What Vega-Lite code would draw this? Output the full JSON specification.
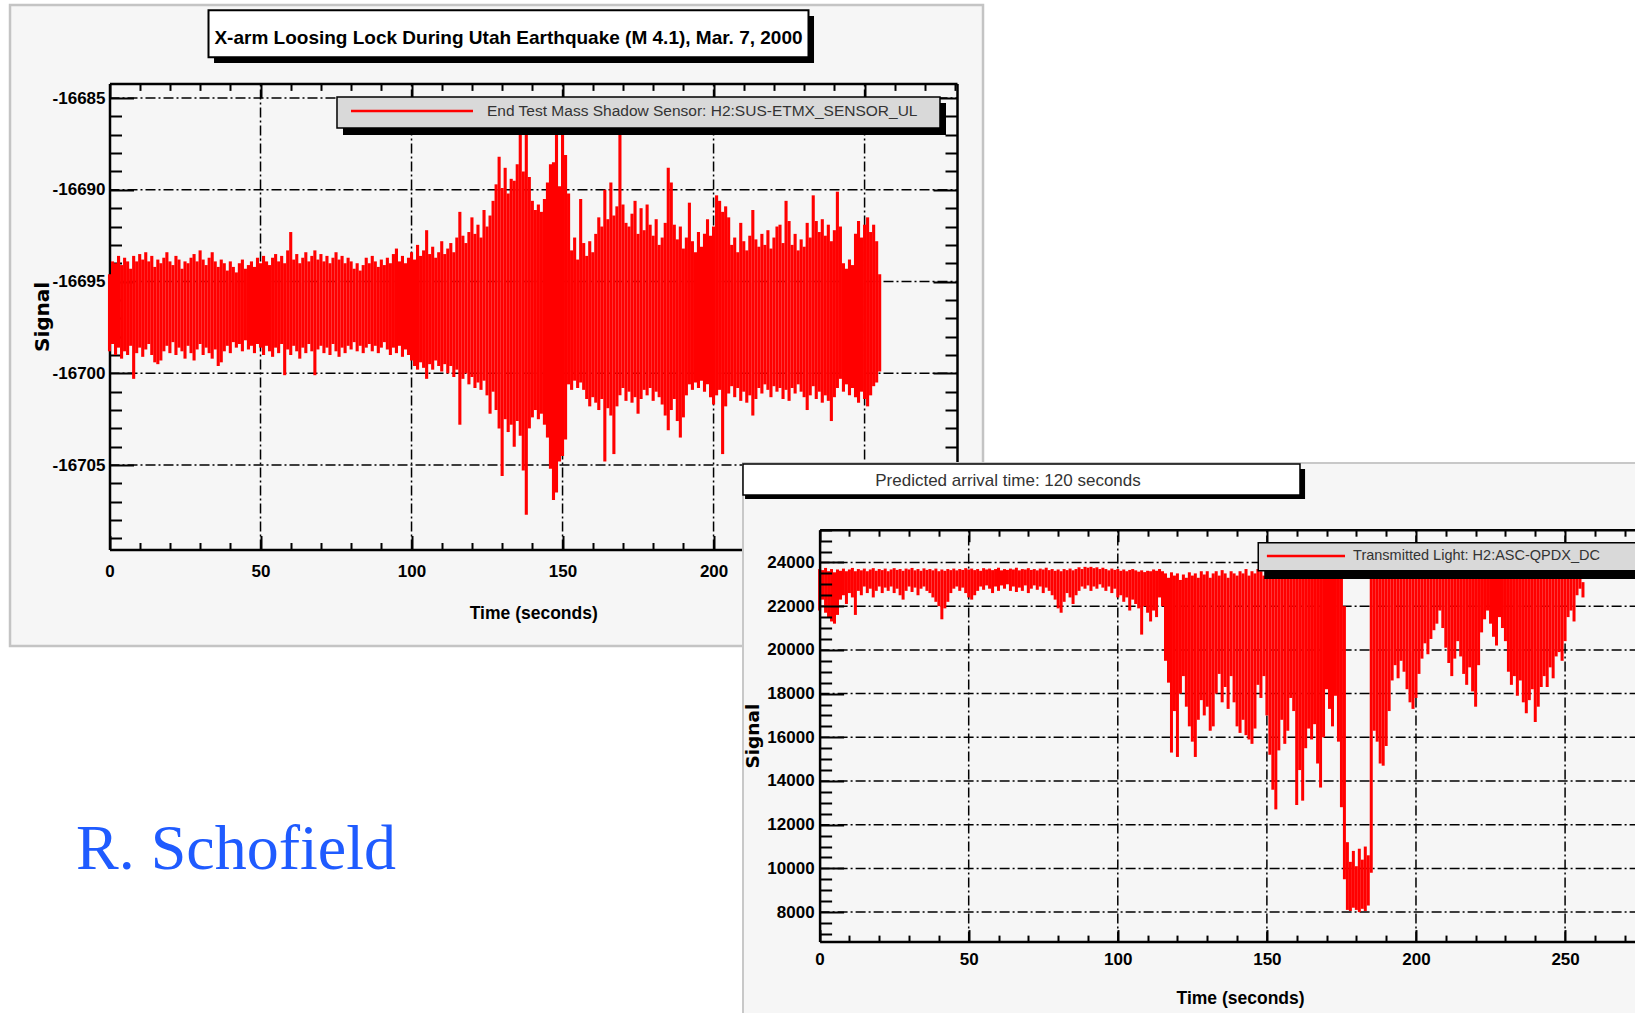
{
"$schema": "https://vega.github.io/schema/vega-lite/v6.json",
"width": 1635, "height": 1013,
"autosize": {"type": "none"},
"padding": 0,
"background": "#f6f6f6",
"config": {
  "view": {"stroke": null},
  "axis": {"grid": false, "labelOverlap": false, "labelFlush": false, "domainColor": "#000", "tickColor": "#000", "labelColor": "#000", "titleColor": "#000", "labelFont": "Liberation Sans", "labelFontWeight": "bold", "labelFontSize": 17, "tickWidth": 2, "domainWidth": 2.5}
},
"datasets": {
"top": [
{"t":0,"lo":-16698.8,"hi":-16694.6},{"t":1,"lo":-16698.4,"hi":-16693.9},{"t":2,"lo":-16699.0,"hi":-16694.0},{"t":3,"lo":-16698.6,"hi":-16693.6},{"t":4,"lo":-16699.2,"hi":-16694.1},{"t":5,"lo":-16698.8,"hi":-16693.7},{"t":6,"lo":-16699.0,"hi":-16693.9},{"t":7,"lo":-16698.5,"hi":-16694.3},{"t":8,"lo":-16700.3,"hi":-16693.6},{"t":9,"lo":-16698.9,"hi":-16693.9},
{"t":10,"lo":-16698.6,"hi":-16693.5},{"t":11,"lo":-16699.1,"hi":-16693.8},{"t":12,"lo":-16698.7,"hi":-16693.4},{"t":13,"lo":-16698.4,"hi":-16693.9},{"t":14,"lo":-16699.0,"hi":-16693.6},{"t":15,"lo":-16699.4,"hi":-16694.2},{"t":16,"lo":-16699.5,"hi":-16693.8},{"t":17,"lo":-16699.3,"hi":-16694.0},{"t":18,"lo":-16698.8,"hi":-16693.7},{"t":19,"lo":-16698.5,"hi":-16693.4},
{"t":20,"lo":-16698.9,"hi":-16693.9},{"t":21,"lo":-16698.3,"hi":-16694.1},{"t":22,"lo":-16699.0,"hi":-16693.6},{"t":23,"lo":-16698.6,"hi":-16693.8},{"t":24,"lo":-16698.8,"hi":-16694.3},{"t":25,"lo":-16699.2,"hi":-16693.9},{"t":26,"lo":-16698.5,"hi":-16694.0},{"t":27,"lo":-16698.9,"hi":-16693.7},{"t":28,"lo":-16699.3,"hi":-16693.5},{"t":29,"lo":-16698.7,"hi":-16693.9},
{"t":30,"lo":-16698.4,"hi":-16693.3},{"t":31,"lo":-16699.0,"hi":-16693.8},{"t":32,"lo":-16698.6,"hi":-16694.1},{"t":33,"lo":-16698.9,"hi":-16693.7},{"t":34,"lo":-16699.2,"hi":-16693.4},{"t":35,"lo":-16698.7,"hi":-16693.9},{"t":36,"lo":-16699.6,"hi":-16694.2},{"t":37,"lo":-16699.4,"hi":-16693.8},{"t":38,"lo":-16698.8,"hi":-16694.0},{"t":39,"lo":-16698.5,"hi":-16694.4},
{"t":40,"lo":-16698.9,"hi":-16693.9},{"t":41,"lo":-16698.3,"hi":-16694.2},{"t":42,"lo":-16698.6,"hi":-16694.5},{"t":43,"lo":-16698.4,"hi":-16694.0},{"t":44,"lo":-16698.8,"hi":-16693.8},{"t":45,"lo":-16698.2,"hi":-16694.3},{"t":46,"lo":-16698.7,"hi":-16694.1},{"t":47,"lo":-16698.5,"hi":-16693.9},{"t":48,"lo":-16698.9,"hi":-16694.2},{"t":49,"lo":-16698.4,"hi":-16693.7},
{"t":50,"lo":-16698.6,"hi":-16694.0},{"t":51,"lo":-16699.0,"hi":-16693.6},{"t":52,"lo":-16698.5,"hi":-16693.9},{"t":53,"lo":-16698.8,"hi":-16694.1},{"t":54,"lo":-16699.1,"hi":-16693.7},{"t":55,"lo":-16698.6,"hi":-16693.5},{"t":56,"lo":-16698.9,"hi":-16693.9},{"t":57,"lo":-16698.4,"hi":-16693.6},{"t":58,"lo":-16700.1,"hi":-16694.0},{"t":59,"lo":-16698.7,"hi":-16693.3},
{"t":60,"lo":-16699.0,"hi":-16692.3},{"t":61,"lo":-16698.5,"hi":-16693.8},{"t":62,"lo":-16698.8,"hi":-16693.5},{"t":63,"lo":-16699.2,"hi":-16694.0},{"t":64,"lo":-16698.6,"hi":-16693.7},{"t":65,"lo":-16698.9,"hi":-16693.4},{"t":66,"lo":-16698.4,"hi":-16693.9},{"t":67,"lo":-16698.8,"hi":-16693.6},{"t":68,"lo":-16700.1,"hi":-16693.3},{"t":69,"lo":-16698.7,"hi":-16693.8},
{"t":70,"lo":-16698.5,"hi":-16693.5},{"t":71,"lo":-16698.9,"hi":-16693.9},{"t":72,"lo":-16698.6,"hi":-16693.6},{"t":73,"lo":-16699.0,"hi":-16694.0},{"t":74,"lo":-16698.4,"hi":-16693.7},{"t":75,"lo":-16698.8,"hi":-16693.4},{"t":76,"lo":-16699.1,"hi":-16693.8},{"t":77,"lo":-16698.6,"hi":-16693.6},{"t":78,"lo":-16698.9,"hi":-16694.0},{"t":79,"lo":-16698.5,"hi":-16693.7},
{"t":80,"lo":-16698.7,"hi":-16693.9},{"t":81,"lo":-16698.3,"hi":-16694.3},{"t":82,"lo":-16698.8,"hi":-16694.0},{"t":83,"lo":-16698.5,"hi":-16694.4},{"t":84,"lo":-16698.9,"hi":-16694.1},{"t":85,"lo":-16698.6,"hi":-16693.7},{"t":86,"lo":-16698.4,"hi":-16694.0},{"t":87,"lo":-16698.8,"hi":-16693.6},{"t":88,"lo":-16698.5,"hi":-16693.9},{"t":89,"lo":-16698.9,"hi":-16694.2},
{"t":90,"lo":-16698.6,"hi":-16693.8},{"t":91,"lo":-16698.3,"hi":-16694.1},{"t":92,"lo":-16698.7,"hi":-16693.7},{"t":93,"lo":-16699.0,"hi":-16694.0},{"t":94,"lo":-16698.6,"hi":-16693.5},{"t":95,"lo":-16698.9,"hi":-16693.2},{"t":96,"lo":-16698.5,"hi":-16693.9},{"t":97,"lo":-16699.1,"hi":-16693.6},{"t":98,"lo":-16698.7,"hi":-16694.0},{"t":99,"lo":-16699.0,"hi":-16693.7},
{"t":100,"lo":-16699.3,"hi":-16693.4},{"t":101,"lo":-16699.6,"hi":-16693.8},{"t":102,"lo":-16699.8,"hi":-16693.0},{"t":103,"lo":-16699.4,"hi":-16693.6},{"t":104,"lo":-16699.7,"hi":-16693.3},{"t":105,"lo":-16700.3,"hi":-16692.2},{"t":106,"lo":-16699.5,"hi":-16693.5},{"t":107,"lo":-16699.8,"hi":-16693.1},{"t":108,"lo":-16699.3,"hi":-16693.7},{"t":109,"lo":-16699.6,"hi":-16693.4},
{"t":110,"lo":-16699.9,"hi":-16692.8},{"t":111,"lo":-16699.5,"hi":-16693.5},{"t":112,"lo":-16700.0,"hi":-16693.2},{"t":113,"lo":-16699.6,"hi":-16692.9},{"t":114,"lo":-16700.2,"hi":-16693.4},{"t":115,"lo":-16699.8,"hi":-16692.6},{"t":116,"lo":-16702.8,"hi":-16691.2},{"t":117,"lo":-16700.3,"hi":-16692.5},{"t":118,"lo":-16700.0,"hi":-16692.9},{"t":119,"lo":-16700.6,"hi":-16692.3},
{"t":120,"lo":-16700.2,"hi":-16691.5},{"t":121,"lo":-16700.8,"hi":-16692.4},{"t":122,"lo":-16700.5,"hi":-16691.9},{"t":123,"lo":-16700.9,"hi":-16692.6},{"t":124,"lo":-16700.4,"hi":-16691.1},{"t":125,"lo":-16701.2,"hi":-16692.0},{"t":126,"lo":-16702.2,"hi":-16691.4},{"t":127,"lo":-16701.0,"hi":-16690.6},{"t":128,"lo":-16702.0,"hi":-16689.7},{"t":129,"lo":-16703.0,"hi":-16688.2},
{"t":130,"lo":-16705.6,"hi":-16689.9},{"t":131,"lo":-16702.5,"hi":-16688.8},{"t":132,"lo":-16703.2,"hi":-16690.2},{"t":133,"lo":-16702.8,"hi":-16689.4},{"t":134,"lo":-16704.0,"hi":-16689.5},{"t":135,"lo":-16702.6,"hi":-16688.6},{"t":136,"lo":-16703.4,"hi":-16686.8},{"t":137,"lo":-16705.3,"hi":-16689.0},{"t":138,"lo":-16707.7,"hi":-16686.5},{"t":139,"lo":-16703.0,"hi":-16689.3},
{"t":140,"lo":-16702.4,"hi":-16690.6},{"t":141,"lo":-16702.0,"hi":-16691.1},{"t":142,"lo":-16702.5,"hi":-16690.8},{"t":143,"lo":-16702.2,"hi":-16691.2},{"t":144,"lo":-16702.8,"hi":-16690.5},{"t":145,"lo":-16703.5,"hi":-16689.6},{"t":146,"lo":-16705.2,"hi":-16688.6},{"t":147,"lo":-16706.9,"hi":-16688.5},{"t":148,"lo":-16706.5,"hi":-16686.5},{"t":149,"lo":-16704.8,"hi":-16689.8},
{"t":150,"lo":-16704.5,"hi":-16686.6},{"t":151,"lo":-16703.6,"hi":-16688.1},{"t":152,"lo":-16700.6,"hi":-16690.2},{"t":153,"lo":-16700.9,"hi":-16693.3},{"t":154,"lo":-16700.4,"hi":-16692.6},{"t":155,"lo":-16700.8,"hi":-16693.8},{"t":156,"lo":-16700.5,"hi":-16690.5},{"t":157,"lo":-16700.9,"hi":-16692.9},{"t":158,"lo":-16701.4,"hi":-16693.6},{"t":159,"lo":-16701.8,"hi":-16692.8},
{"t":160,"lo":-16701.3,"hi":-16693.4},{"t":161,"lo":-16701.6,"hi":-16692.4},{"t":162,"lo":-16702.0,"hi":-16691.5},{"t":163,"lo":-16701.4,"hi":-16692.0},{"t":164,"lo":-16704.8,"hi":-16690.0},{"t":165,"lo":-16701.9,"hi":-16691.6},{"t":166,"lo":-16702.3,"hi":-16689.6},{"t":167,"lo":-16704.4,"hi":-16691.4},{"t":168,"lo":-16701.8,"hi":-16690.9},{"t":169,"lo":-16701.2,"hi":-16686.6},
{"t":170,"lo":-16700.8,"hi":-16690.8},{"t":171,"lo":-16701.5,"hi":-16691.8},{"t":172,"lo":-16701.0,"hi":-16692.0},{"t":173,"lo":-16701.6,"hi":-16691.3},{"t":174,"lo":-16701.3,"hi":-16690.6},{"t":175,"lo":-16702.2,"hi":-16692.4},{"t":176,"lo":-16701.4,"hi":-16691.0},{"t":177,"lo":-16700.9,"hi":-16692.2},{"t":178,"lo":-16701.2,"hi":-16690.8},{"t":179,"lo":-16700.8,"hi":-16691.9},
{"t":180,"lo":-16701.5,"hi":-16692.5},{"t":181,"lo":-16701.0,"hi":-16691.6},{"t":182,"lo":-16701.3,"hi":-16693.0},{"t":183,"lo":-16701.7,"hi":-16692.6},{"t":184,"lo":-16702.3,"hi":-16691.8},{"t":185,"lo":-16703.1,"hi":-16688.8},{"t":186,"lo":-16702.0,"hi":-16689.6},{"t":187,"lo":-16701.4,"hi":-16691.9},{"t":188,"lo":-16702.6,"hi":-16692.7},{"t":189,"lo":-16703.5,"hi":-16692.0},
{"t":190,"lo":-16702.4,"hi":-16693.2},{"t":191,"lo":-16701.2,"hi":-16692.6},{"t":192,"lo":-16700.6,"hi":-16690.7},{"t":193,"lo":-16700.9,"hi":-16692.8},{"t":194,"lo":-16700.5,"hi":-16693.4},{"t":195,"lo":-16700.8,"hi":-16692.3},{"t":196,"lo":-16700.4,"hi":-16693.1},{"t":197,"lo":-16701.0,"hi":-16692.4},{"t":198,"lo":-16700.6,"hi":-16691.6},{"t":199,"lo":-16701.3,"hi":-16692.5},
{"t":200,"lo":-16701.7,"hi":-16692.0},{"t":201,"lo":-16701.2,"hi":-16690.3},{"t":202,"lo":-16700.9,"hi":-16690.6},{"t":203,"lo":-16704.4,"hi":-16691.2},{"t":204,"lo":-16701.8,"hi":-16690.9},{"t":205,"lo":-16701.1,"hi":-16691.5},{"t":206,"lo":-16700.7,"hi":-16693.0},{"t":207,"lo":-16701.3,"hi":-16692.6},{"t":208,"lo":-16700.8,"hi":-16693.4},{"t":209,"lo":-16701.5,"hi":-16691.8},
{"t":210,"lo":-16701.0,"hi":-16692.8},{"t":211,"lo":-16701.6,"hi":-16693.3},{"t":212,"lo":-16701.2,"hi":-16692.5},{"t":213,"lo":-16702.3,"hi":-16691.1},{"t":214,"lo":-16701.4,"hi":-16692.7},{"t":215,"lo":-16700.8,"hi":-16693.1},{"t":216,"lo":-16701.1,"hi":-16692.4},{"t":217,"lo":-16700.6,"hi":-16693.0},{"t":218,"lo":-16700.9,"hi":-16692.2},{"t":219,"lo":-16701.3,"hi":-16693.2},
{"t":220,"lo":-16700.7,"hi":-16692.6},{"t":221,"lo":-16701.0,"hi":-16692.0},{"t":222,"lo":-16700.8,"hi":-16691.9},{"t":223,"lo":-16701.4,"hi":-16692.9},{"t":224,"lo":-16700.9,"hi":-16690.6},{"t":225,"lo":-16701.5,"hi":-16691.7},{"t":226,"lo":-16700.8,"hi":-16693.0},{"t":227,"lo":-16701.1,"hi":-16692.4},{"t":228,"lo":-16700.6,"hi":-16693.3},{"t":229,"lo":-16701.0,"hi":-16692.7},
{"t":230,"lo":-16701.3,"hi":-16693.1},{"t":231,"lo":-16702.0,"hi":-16691.8},{"t":232,"lo":-16701.2,"hi":-16692.6},{"t":233,"lo":-16700.7,"hi":-16690.3},{"t":234,"lo":-16701.4,"hi":-16691.7},{"t":235,"lo":-16701.0,"hi":-16692.3},{"t":236,"lo":-16701.6,"hi":-16691.6},{"t":237,"lo":-16701.2,"hi":-16692.5},{"t":238,"lo":-16701.5,"hi":-16691.9},{"t":239,"lo":-16702.6,"hi":-16692.8},
{"t":240,"lo":-16701.3,"hi":-16692.2},{"t":241,"lo":-16700.8,"hi":-16690.1},{"t":242,"lo":-16700.3,"hi":-16692.0},{"t":243,"lo":-16701.0,"hi":-16694.0},{"t":244,"lo":-16700.6,"hi":-16694.3},{"t":245,"lo":-16701.2,"hi":-16693.8},{"t":246,"lo":-16700.8,"hi":-16694.1},{"t":247,"lo":-16701.3,"hi":-16692.4},{"t":248,"lo":-16701.6,"hi":-16691.7},{"t":249,"lo":-16701.0,"hi":-16692.6},
{"t":250,"lo":-16701.4,"hi":-16691.9},{"t":251,"lo":-16701.8,"hi":-16691.5},{"t":252,"lo":-16701.2,"hi":-16692.3},{"t":253,"lo":-16700.7,"hi":-16691.9},{"t":254,"lo":-16700.5,"hi":-16692.8},{"t":255,"lo":-16699.9,"hi":-16694.6}
],
"bot": [
{"t":0,"lo":21800,"hi":23700},{"t":1,"lo":22300,"hi":23650},{"t":2,"lo":21700,"hi":23750},{"t":3,"lo":21500,"hi":23600},{"t":4,"lo":21300,"hi":23700},{"t":5,"lo":21200,"hi":23550},{"t":6,"lo":21600,"hi":23680},{"t":7,"lo":22300,"hi":23620},{"t":8,"lo":22500,"hi":23720},{"t":9,"lo":22100,"hi":23600},
{"t":10,"lo":22600,"hi":23680},{"t":11,"lo":22400,"hi":23750},{"t":12,"lo":21600,"hi":23600},{"t":13,"lo":22700,"hi":23700},{"t":14,"lo":22500,"hi":23640},{"t":15,"lo":22900,"hi":23720},{"t":16,"lo":22600,"hi":23600},{"t":17,"lo":22800,"hi":23680},{"t":18,"lo":22400,"hi":23740},{"t":19,"lo":22700,"hi":23620},
{"t":20,"lo":22900,"hi":23700},{"t":21,"lo":22600,"hi":23650},{"t":22,"lo":22850,"hi":23720},{"t":23,"lo":22700,"hi":23600},{"t":24,"lo":22900,"hi":23680},{"t":25,"lo":22600,"hi":23740},{"t":26,"lo":22800,"hi":23660},{"t":27,"lo":22500,"hi":23700},{"t":28,"lo":22300,"hi":23620},{"t":29,"lo":22700,"hi":23720},
{"t":30,"lo":22900,"hi":23680},{"t":31,"lo":22650,"hi":23750},{"t":32,"lo":22850,"hi":23640},{"t":33,"lo":22500,"hi":23700},{"t":34,"lo":22800,"hi":23620},{"t":35,"lo":22900,"hi":23730},{"t":36,"lo":22700,"hi":23660},{"t":37,"lo":22600,"hi":23700},{"t":38,"lo":22400,"hi":23640},{"t":39,"lo":22200,"hi":23720},
{"t":40,"lo":22000,"hi":23600},{"t":41,"lo":21400,"hi":23680},{"t":42,"lo":21900,"hi":23620},{"t":43,"lo":22200,"hi":23700},{"t":44,"lo":22600,"hi":23650},{"t":45,"lo":22800,"hi":23720},{"t":46,"lo":22900,"hi":23640},{"t":47,"lo":22700,"hi":23700},{"t":48,"lo":22850,"hi":23660},{"t":49,"lo":22600,"hi":23740},
{"t":50,"lo":22400,"hi":23680},{"t":51,"lo":22300,"hi":23720},{"t":52,"lo":22500,"hi":23650},{"t":53,"lo":22700,"hi":23700},{"t":54,"lo":22900,"hi":23620},{"t":55,"lo":22750,"hi":23740},{"t":56,"lo":22950,"hi":23680},{"t":57,"lo":22800,"hi":23720},{"t":58,"lo":22600,"hi":23650},{"t":59,"lo":22900,"hi":23700},
{"t":60,"lo":22700,"hi":23760},{"t":61,"lo":22950,"hi":23640},{"t":62,"lo":22800,"hi":23700},{"t":63,"lo":23000,"hi":23660},{"t":64,"lo":22700,"hi":23720},{"t":65,"lo":22900,"hi":23680},{"t":66,"lo":22650,"hi":23760},{"t":67,"lo":22850,"hi":23640},{"t":68,"lo":22700,"hi":23700},{"t":69,"lo":22950,"hi":23680},
{"t":70,"lo":22600,"hi":23740},{"t":71,"lo":22800,"hi":23660},{"t":72,"lo":22950,"hi":23700},{"t":73,"lo":22750,"hi":23640},{"t":74,"lo":22900,"hi":23720},{"t":75,"lo":22600,"hi":23680},{"t":76,"lo":22850,"hi":23760},{"t":77,"lo":22700,"hi":23650},{"t":78,"lo":22500,"hi":23700},{"t":79,"lo":22300,"hi":23620},
{"t":80,"lo":21900,"hi":23680},{"t":81,"lo":21700,"hi":23600},{"t":82,"lo":22200,"hi":23700},{"t":83,"lo":22600,"hi":23650},{"t":84,"lo":22400,"hi":23720},{"t":85,"lo":22100,"hi":23640},{"t":86,"lo":22500,"hi":23700},{"t":87,"lo":22700,"hi":23780},{"t":88,"lo":22900,"hi":23700},{"t":89,"lo":22800,"hi":23800},
{"t":90,"lo":22950,"hi":23760},{"t":91,"lo":22700,"hi":23800},{"t":92,"lo":22900,"hi":23740},{"t":93,"lo":22800,"hi":23780},{"t":94,"lo":23000,"hi":23700},{"t":95,"lo":22850,"hi":23760},{"t":96,"lo":22700,"hi":23700},{"t":97,"lo":22900,"hi":23640},{"t":98,"lo":22600,"hi":23720},{"t":99,"lo":22800,"hi":23660},
{"t":100,"lo":22400,"hi":23700},{"t":101,"lo":22500,"hi":23620},{"t":102,"lo":22200,"hi":23680},{"t":103,"lo":22400,"hi":23600},{"t":104,"lo":21800,"hi":23660},{"t":105,"lo":22300,"hi":23700},{"t":106,"lo":22100,"hi":23640},{"t":107,"lo":21900,"hi":23580},{"t":108,"lo":20700,"hi":23640},{"t":109,"lo":22000,"hi":23560},
{"t":110,"lo":21700,"hi":23620},{"t":111,"lo":21300,"hi":23600},{"t":112,"lo":21800,"hi":23680},{"t":113,"lo":21500,"hi":23620},{"t":114,"lo":22400,"hi":23700},{"t":115,"lo":22000,"hi":23600},{"t":116,"lo":19500,"hi":23500},{"t":117,"lo":18500,"hi":23300},{"t":118,"lo":15300,"hi":23550},{"t":119,"lo":17200,"hi":23400},
{"t":120,"lo":15100,"hi":23500},{"t":121,"lo":18000,"hi":23200},{"t":122,"lo":18800,"hi":23450},{"t":123,"lo":17400,"hi":23300},{"t":124,"lo":16500,"hi":23550},{"t":125,"lo":15800,"hi":23400},{"t":126,"lo":15100,"hi":23500},{"t":127,"lo":16800,"hi":23300},{"t":128,"lo":17700,"hi":23600},{"t":129,"lo":17000,"hi":23450},
{"t":130,"lo":17400,"hi":23600},{"t":131,"lo":16300,"hi":23300},{"t":132,"lo":16500,"hi":23500},{"t":133,"lo":18000,"hi":23600},{"t":134,"lo":18900,"hi":23400},{"t":135,"lo":17600,"hi":23650},{"t":136,"lo":18300,"hi":23500},{"t":137,"lo":17300,"hi":23300},{"t":138,"lo":18800,"hi":23600},{"t":139,"lo":17600,"hi":23500},
{"t":140,"lo":16500,"hi":23400},{"t":141,"lo":16200,"hi":23600},{"t":142,"lo":16800,"hi":23500},{"t":143,"lo":16100,"hi":23700},{"t":144,"lo":15900,"hi":23400},{"t":145,"lo":15700,"hi":23600},{"t":146,"lo":16400,"hi":23500},{"t":147,"lo":18400,"hi":23700},{"t":148,"lo":17800,"hi":23600},{"t":149,"lo":18800,"hi":23400},
{"t":150,"lo":17000,"hi":23700},{"t":151,"lo":15200,"hi":23600},{"t":152,"lo":13600,"hi":23500},{"t":153,"lo":12700,"hi":23650},{"t":154,"lo":15400,"hi":23400},{"t":155,"lo":16800,"hi":23600},{"t":156,"lo":15700,"hi":23700},{"t":157,"lo":16300,"hi":23500},{"t":158,"lo":17800,"hi":23600},{"t":159,"lo":17200,"hi":23400},
{"t":160,"lo":12900,"hi":23700},{"t":161,"lo":14500,"hi":23500},{"t":162,"lo":13100,"hi":23600},{"t":163,"lo":15500,"hi":23400},{"t":164,"lo":16400,"hi":23700},{"t":165,"lo":15900,"hi":23550},{"t":166,"lo":16600,"hi":23650},{"t":167,"lo":14800,"hi":23400},{"t":168,"lo":13700,"hi":23600},{"t":169,"lo":16000,"hi":23500},
{"t":170,"lo":18200,"hi":23700},{"t":171,"lo":17300,"hi":23600},{"t":172,"lo":16500,"hi":23500},{"t":173,"lo":17900,"hi":23700},{"t":174,"lo":15800,"hi":23600},{"t":175,"lo":12800,"hi":23300},{"t":176,"lo":9500,"hi":22000},{"t":177,"lo":8100,"hi":11200},{"t":178,"lo":8050,"hi":10300},{"t":179,"lo":8200,"hi":10800},
{"t":180,"lo":8100,"hi":10100},{"t":181,"lo":8000,"hi":10900},{"t":182,"lo":8150,"hi":10400},{"t":183,"lo":8050,"hi":11000},{"t":184,"lo":8300,"hi":10600},{"t":185,"lo":9800,"hi":23500},{"t":186,"lo":16300,"hi":23600},{"t":187,"lo":15800,"hi":23400},{"t":188,"lo":14800,"hi":23600},{"t":189,"lo":14700,"hi":23500},
{"t":190,"lo":15600,"hi":23650},{"t":191,"lo":17200,"hi":23400},{"t":192,"lo":18600,"hi":23600},{"t":193,"lo":19300,"hi":23500},{"t":194,"lo":18700,"hi":23700},{"t":195,"lo":19500,"hi":23600},{"t":196,"lo":19000,"hi":23500},{"t":197,"lo":18200,"hi":23700},{"t":198,"lo":17600,"hi":23600},{"t":199,"lo":17300,"hi":23500},
{"t":200,"lo":17800,"hi":23700},{"t":201,"lo":18900,"hi":23650},{"t":202,"lo":19600,"hi":23700},{"t":203,"lo":20300,"hi":23600},{"t":204,"lo":19800,"hi":23750},{"t":205,"lo":20500,"hi":23650},{"t":206,"lo":20900,"hi":23700},{"t":207,"lo":21200,"hi":23600},{"t":208,"lo":21800,"hi":23500},{"t":209,"lo":21000,"hi":23650},
{"t":210,"lo":20100,"hi":23700},{"t":211,"lo":19400,"hi":23600},{"t":212,"lo":18800,"hi":23750},{"t":213,"lo":19600,"hi":23650},{"t":214,"lo":20400,"hi":23700},{"t":215,"lo":19700,"hi":23600},{"t":216,"lo":18900,"hi":23700},{"t":217,"lo":18400,"hi":23650},{"t":218,"lo":19200,"hi":23750},{"t":219,"lo":18100,"hi":23600},
{"t":220,"lo":17400,"hi":23700},{"t":221,"lo":19300,"hi":23650},{"t":222,"lo":20800,"hi":23700},{"t":223,"lo":21400,"hi":23750},{"t":224,"lo":21800,"hi":23650},{"t":225,"lo":21200,"hi":23700},{"t":226,"lo":20600,"hi":23600},{"t":227,"lo":20200,"hi":23750},{"t":228,"lo":21500,"hi":23650},{"t":229,"lo":21000,"hi":23700},
{"t":230,"lo":20400,"hi":23600},{"t":231,"lo":19000,"hi":23700},{"t":232,"lo":18400,"hi":23650},{"t":233,"lo":18800,"hi":23700},{"t":234,"lo":17900,"hi":23600},{"t":235,"lo":18600,"hi":23750},{"t":236,"lo":17600,"hi":23650},{"t":237,"lo":17100,"hi":23700},{"t":238,"lo":17700,"hi":23600},{"t":239,"lo":18200,"hi":23750},
{"t":240,"lo":16700,"hi":23650},{"t":241,"lo":17400,"hi":23700},{"t":242,"lo":18300,"hi":23600},{"t":243,"lo":18800,"hi":23700},{"t":244,"lo":18300,"hi":23650},{"t":245,"lo":19200,"hi":23750},{"t":246,"lo":18700,"hi":23600},{"t":247,"lo":19700,"hi":23700},{"t":248,"lo":19900,"hi":23650},{"t":249,"lo":19500,"hi":23700},
{"t":250,"lo":20400,"hi":23600},{"t":251,"lo":21500,"hi":23700},{"t":252,"lo":21800,"hi":23650},{"t":253,"lo":21300,"hi":23750},{"t":254,"lo":22500,"hi":23600},{"t":255,"lo":22800,"hi":23700},{"t":256,"lo":22400,"hi":23100}
]
},
"layer": [
{
 "resolve": {"axis": {"x": "independent", "y": "independent"}},
 "layer": [
  {"data": {"values": [{}]}, "mark": {"type": "rect", "fill": "white"}, "encoding": {"x": {"datum": 289.21, "type": "quantitative", "axis": null}, "x2": {"datum": 530}, "y": {"datum": -16678.5, "type": "quantitative", "axis": null}, "y2": {"datum": -16705.3}}},
  {"data": {"values": [{}]}, "mark": {"type": "rect", "fill": "white"}, "encoding": {"x": {"datum": -45, "type": "quantitative", "axis": null}, "x2": {"datum": 215}, "y": {"datum": -16714.86, "type": "quantitative", "axis": null}, "y2": {"datum": -16736}}},
  {"data": {"values": [{}]}, "mark": {"type": "rect", "fill": "white"}, "encoding": {"x": {"datum": -45, "type": "quantitative", "axis": null}, "x2": {"datum": 530}, "y": {"datum": -16678.5, "type": "quantitative", "axis": null}, "y2": {"datum": -16679.93}}},
  {"data": {"values": [{}]}, "mark": {"type": "rect", "fill": "white"}, "encoding": {"x": {"datum": -45, "type": "quantitative", "axis": null}, "x2": {"datum": -32.94}, "y": {"datum": -16678.5, "type": "quantitative", "axis": null}, "y2": {"datum": -16736}}},
  {"data": {"values": [{}]}, "mark": {"type": "rect", "fillOpacity": 0, "stroke": "#c4c4c4", "strokeWidth": 2.5}, "encoding": {"x": {"datum": -32.94, "type": "quantitative", "axis": null}, "x2": {"datum": 289.21}, "y": {"datum": -16679.93, "type": "quantitative", "axis": null}, "y2": {"datum": -16714.86}}},
  {"data": {"values": [{}]}, "mark": {"type": "rect", "fill": "black"}, "encoding": {"x": {"datum": 34.61, "type": "quantitative", "axis": null}, "x2": {"datum": 233.26}, "y": {"datum": -16680.53, "type": "quantitative", "axis": null}, "y2": {"datum": -16683.09}}},
  {"data": {"values": [{}]}, "mark": {"type": "rect", "fill": "white", "stroke": "black", "strokeWidth": 2}, "encoding": {"x": {"datum": 32.78, "type": "quantitative", "axis": null}, "x2": {"datum": 231.43}, "y": {"datum": -16680.22, "type": "quantitative", "axis": null}, "y2": {"datum": -16682.78}}},
  {"data": {"values": [{"s": "X-arm Loosing Lock During Utah Earthquake (M 4.1), Mar. 7, 2000"}]}, "mark": {"type": "text", "align": "center", "baseline": "middle", "font": "Liberation Sans", "fontWeight": "bold", "fontSize": 19, "color": "black"}, "encoding": {"text": {"field": "s"}, "x": {"datum": 132.1, "type": "quantitative", "axis": null}, "y": {"datum": -16681.73, "type": "quantitative", "axis": null}}},
  {"data": {"values": [{"g": 50}, {"g": 100}, {"g": 150}, {"g": 200}, {"g": 250}]}, "mark": {"type": "rule", "color": "black", "strokeWidth": 1.5, "strokeDash": [10, 3, 2, 3]},
   "encoding": {"x": {"field": "g", "type": "quantitative", "axis": {"orient": "bottom", "offset": -463.5, "values": [0,10,20,30,40,50,60,70,80,90,100,110,120,130,140,150,160,170,180,190,200,210,220,230,240,250,260,270,280], "labels": false, "domain": false, "ticks": true, "tickSize": {"condition": {"test": "datum.value % 50 === 0", "value": -14}, "value": -7}, "title": null, "zindex": 0}},
     "y": {"datum": -16709.6, "type": "quantitative", "axis": null}, "y2": {"datum": -16684.2}}},
  {"data": {"values": [{"g": -16705}, {"g": -16700}, {"g": -16695}, {"g": -16690}, {"g": -16685}]}, "mark": {"type": "rule", "color": "black", "strokeWidth": 1.5, "strokeDash": [10, 3, 2, 3]},
   "encoding": {"y": {"field": "g", "type": "quantitative", "axis": {"orient": "left", "offset": -109.5, "values": [-16709,-16708,-16707,-16706,-16705,-16704,-16703,-16702,-16701,-16700,-16699,-16698,-16697,-16696,-16695,-16694,-16693,-16692,-16691,-16690,-16689,-16688,-16687,-16686,-16685], "labels": false, "domain": false, "ticks": true, "tickSize": {"condition": {"test": "datum.value % 5 === 0", "value": -24}, "value": -12}, "title": null, "zindex": 0}},
     "x": {"datum": 0, "type": "quantitative", "axis": null}, "x2": {"datum": 280.6}}},
  {"data": {"name": "top"}, "mark": {"type": "rule", "color": "#ff0000", "strokeWidth": 3.1},
   "encoding": {
     "x": {"field": "t", "type": "quantitative", "scale": {"domain": [0, 280.6], "range": [109.5, 957], "nice": false, "zero": false},
       "axis": {"orient": "bottom", "offset": -463.5, "values": [0,50,100,150,200,250], "ticks": false, "domain": true, "format": "d", "labelPadding": 13.5, "title": "Time (seconds)", "titleFont": "Liberation Sans", "titleFontWeight": "bold", "titleFontSize": 17.5, "titlePadding": 25, "zindex": 0}},
     "y": {"field": "lo", "type": "quantitative", "scale": {"domain": [-16709.6, -16684.2], "range": [549.5, 83.4], "nice": false, "zero": false},
       "axis": {"orient": "left", "offset": -109.5, "values": [-16705,-16700,-16695,-16690,-16685], "ticks": false, "domain": true, "labelExpr": "'-' + format(abs(datum.value), 'd')", "labelPadding": 4.5, "title": "Signal", "titleFont": "DejaVu Sans", "titleFontWeight": "bold", "titleFontSize": 20, "titlePadding": 0, "zindex": 0}},
     "y2": {"field": "hi"}}},
  {"data": {"values": [{"hx": 0, "hy": -16700}]}, "mark": {"type": "point", "opacity": 0},
   "encoding": {
     "x": {"field": "hx", "type": "quantitative", "axis": {"orient": "top", "offset": -83.4, "values": [0,10,20,30,40,50,60,70,80,90,100,110,120,130,140,150,160,170,180,190,200,210,220,230,240,250,260,270,280], "labels": false, "domain": true, "ticks": true, "tickSize": {"condition": {"test": "datum.value % 50 === 0", "value": -14}, "value": -7}, "title": null, "zindex": 0}},
     "y": {"field": "hy", "type": "quantitative", "axis": {"orient": "right", "offset": -678, "values": [-16709,-16708,-16707,-16706,-16705,-16704,-16703,-16702,-16701,-16700,-16699,-16698,-16697,-16696,-16695,-16694,-16693,-16692,-16691,-16690,-16689,-16688,-16687,-16686,-16685], "labels": false, "domain": true, "ticks": true, "tickSize": {"condition": {"test": "datum.value % 5 === 0", "value": -24}, "value": -12}, "title": null, "zindex": 0}}}},
  {"data": {"values": [{}]}, "mark": {"type": "rect", "fill": "black"}, "encoding": {"x": {"datum": 77.31, "type": "quantitative", "axis": null}, "x2": {"datum": 276.96}, "y": {"datum": -16685.27, "type": "quantitative", "axis": null}, "y2": {"datum": -16687.01}}},
  {"data": {"values": [{}]}, "mark": {"type": "rect", "fill": "#d9d9d9", "stroke": "black", "strokeWidth": 1.5}, "encoding": {"x": {"datum": 75.32, "type": "quantitative", "axis": null}, "x2": {"datum": 274.97}, "y": {"datum": -16684.94, "type": "quantitative", "axis": null}, "y2": {"datum": -16686.63}}},
  {"data": {"values": [{}]}, "mark": {"type": "rule", "color": "#ff0000", "strokeWidth": 2.5}, "encoding": {"x": {"datum": 79.96, "type": "quantitative", "axis": null}, "x2": {"datum": 120.35}, "y": {"datum": -16685.7, "type": "quantitative", "axis": null}}},
  {"data": {"values": [{"s": "End Test Mass Shadow Sensor: H2:SUS-ETMX_SENSOR_UL"}]}, "mark": {"type": "text", "align": "left", "baseline": "middle", "font": "Liberation Sans", "fontSize": 15.5, "color": "#333333"}, "encoding": {"text": {"field": "s"}, "x": {"datum": 124.99, "type": "quantitative", "axis": null}, "y": {"datum": -16685.7, "type": "quantitative", "axis": null}}},
  {"data": {"values": [{"s": "R. Schofield"}]}, "mark": {"type": "text", "align": "left", "baseline": "alphabetic", "font": "Liberation Serif", "fontSize": 64, "color": "#1f5bff"}, "encoding": {"text": {"field": "s"}, "x": {"datum": -11.09, "type": "quantitative", "axis": null}, "y": {"datum": -16726.99, "type": "quantitative", "axis": null}}}
 ]
},
{
 "resolve": {"axis": {"x": "independent", "y": "independent"}},
 "layer": [
  {"data": {"values": [{}]}, "mark": {"type": "rect", "fill": "#f6f6f6", "stroke": "#c8c8c8", "strokeWidth": 2}, "encoding": {"x": {"datum": -25.69, "type": "quantitative", "axis": null}, "x2": {"datum": 300}, "y": {"datum": 28553, "type": "quantitative", "axis": null}, "y2": {"datum": 3000}}},
  {"data": {"values": [{}]}, "mark": {"type": "rect", "fill": "black"}, "encoding": {"x": {"datum": -25, "type": "quantitative", "axis": null}, "x2": {"datum": 162.8}, "y": {"datum": 28278, "type": "quantitative", "axis": null}, "y2": {"datum": 26906}}},
  {"data": {"values": [{}]}, "mark": {"type": "rect", "fill": "white", "stroke": "black", "strokeWidth": 1.5}, "encoding": {"x": {"datum": -25.69, "type": "quantitative", "axis": null}, "x2": {"datum": 161.1}, "y": {"datum": 28507, "type": "quantitative", "axis": null}, "y2": {"datum": 27088}}},
  {"data": {"values": [{"s": "Predicted arrival time: 120 seconds"}]}, "mark": {"type": "text", "align": "center", "baseline": "middle", "font": "Liberation Sans", "fontSize": 17, "color": "#333333"}, "encoding": {"text": {"field": "s"}, "x": {"datum": 63.18, "type": "quantitative", "axis": null}, "y": {"datum": 27706, "type": "quantitative", "axis": null}}},
  {"data": {"values": [{"g": 50}, {"g": 100}, {"g": 150}, {"g": 200}, {"g": 250}]}, "mark": {"type": "rule", "color": "black", "strokeWidth": 1.5, "strokeDash": [10, 3, 2, 3]},
   "encoding": {"x": {"field": "g", "type": "quantitative", "axis": {"orient": "bottom", "offset": -71.4, "values": [0,10,20,30,40,50,60,70,80,90,100,110,120,130,140,150,160,170,180,190,200,210,220,230,240,250,260,270,280], "labels": false, "domain": false, "ticks": true, "tickSize": {"condition": {"test": "datum.value % 50 === 0", "value": -12}, "value": -6.5}, "title": null, "zindex": 1}},
     "y": {"datum": 6650, "type": "quantitative", "axis": null}, "y2": {"datum": 25500}}},
  {"data": {"values": [{"g": 8000}, {"g": 10000}, {"g": 12000}, {"g": 14000}, {"g": 16000}, {"g": 18000}, {"g": 20000}, {"g": 22000}, {"g": 24000}]}, "mark": {"type": "rule", "color": "black", "strokeWidth": 1.5, "strokeDash": [10, 3, 2, 3]},
   "encoding": {"y": {"field": "g", "type": "quantitative", "axis": {"orient": "left", "offset": -819.6, "values": [7000,7500,8000,8500,9000,9500,10000,10500,11000,11500,12000,12500,13000,13500,14000,14500,15000,15500,16000,16500,17000,17500,18000,18500,19000,19500,20000,20500,21000,21500,22000,22500,23000,23500,24000,24500,25000,25500], "labels": false, "domain": false, "ticks": true, "tickSize": {"condition": {"test": "datum.value % 2000 === 0", "value": -24}, "value": -12}, "title": null, "zindex": 1}},
     "x": {"datum": 0, "type": "quantitative", "axis": null}, "x2": {"datum": 282}}},
  {"data": {"name": "bot"}, "mark": {"type": "rule", "color": "#ff0000", "strokeWidth": 3.0},
   "encoding": {
     "x": {"field": "t", "type": "quantitative", "scale": {"domain": [0, 282], "range": [819.6, 1660.5], "nice": false, "zero": false},
       "axis": {"orient": "bottom", "offset": -71.4, "values": [0,50,100,150,200,250], "ticks": false, "domain": true, "format": "d", "labelPadding": 9.4, "title": "Time (seconds)", "titleFont": "Liberation Sans", "titleFontWeight": "bold", "titleFontSize": 17.5, "titlePadding": 22, "zindex": 1}},
     "y": {"field": "lo", "type": "quantitative", "scale": {"domain": [6650, 25500], "range": [941.6, 529.7], "nice": false, "zero": false},
       "axis": {"orient": "left", "offset": -819.6, "values": [8000,10000,12000,14000,16000,18000,20000,22000,24000], "ticks": false, "domain": true, "format": "d", "labelPadding": 5.5, "title": "Signal", "titleFont": "DejaVu Sans", "titleFontWeight": "bold", "titleFontSize": 18.5, "titlePadding": 4, "zindex": 1}},
     "y2": {"field": "hi"}}},
  {"data": {"values": [{"hx": 0, "hy": 10000}]}, "mark": {"type": "point", "opacity": 0},
   "encoding": {
     "x": {"field": "hx", "type": "quantitative", "axis": {"orient": "top", "offset": -529.7, "values": [0,10,20,30,40,50,60,70,80,90,100,110,120,130,140,150,160,170,180,190,200,210,220,230,240,250,260,270,280], "labels": false, "domain": true, "ticks": true, "tickSize": {"condition": {"test": "datum.value % 50 === 0", "value": -12}, "value": -6.5}, "title": null, "zindex": 1}},
     "y": {"field": "hy", "type": "quantitative", "axis": null}}},
  {"data": {"values": [{}]}, "mark": {"type": "rect", "fill": "black"}, "encoding": {"x": {"datum": 149.1, "type": "quantitative", "axis": null}, "x2": {"datum": 300}, "y": {"datum": 24663, "type": "quantitative", "axis": null}, "y2": {"datum": 23244}}},
  {"data": {"values": [{}]}, "mark": {"type": "rect", "fill": "#d9d9d9", "stroke": "black", "strokeWidth": 1.5}, "encoding": {"x": {"datum": 147.1, "type": "quantitative", "axis": null}, "x2": {"datum": 300}, "y": {"datum": 24906, "type": "quantitative", "axis": null}, "y2": {"datum": 23624}}},
  {"data": {"values": [{}]}, "mark": {"type": "rule", "color": "#ff0000", "strokeWidth": 2.5}, "encoding": {"x": {"datum": 150.0, "type": "quantitative", "axis": null}, "x2": {"datum": 176.2}, "y": {"datum": 24297, "type": "quantitative", "axis": null}}},
  {"data": {"values": [{"s": "Transmitted Light: H2:ASC-QPDX_DC"}]}, "mark": {"type": "text", "align": "left", "baseline": "middle", "font": "Liberation Sans", "fontSize": 14.5, "color": "#333333"}, "encoding": {"text": {"field": "s"}, "x": {"datum": 178.9, "type": "quantitative", "axis": null}, "y": {"datum": 24297, "type": "quantitative", "axis": null}}}
 ]
}
],
"resolve": {"scale": {"x": "independent", "y": "independent"}}
}
